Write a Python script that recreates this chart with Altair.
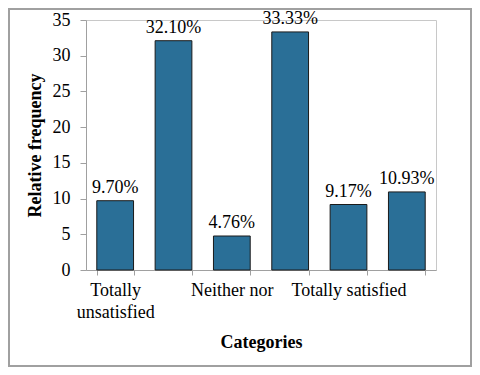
import altair as alt
import pandas as pd

categories = ["Totally unsatisfied", "Unsatisfied", "Neither nor",
              "Satisfied", "Totally satisfied", "No answer"]
values = [9.70, 32.10, 4.76, 33.33, 9.17, 10.93]
y_ticks = [0, 5, 10, 15, 20, 25, 30, 35]

df = pd.DataFrame({"category": categories, "value": values})

FONT = "Liberation Serif"

label_expr = (
    "datum.value == 'Totally unsatisfied' ? ['Totally', 'unsatisfied'] : "
    "(datum.value == 'Neither nor' || datum.value == 'Totally satisfied') ? datum.value : ''"
)

x = alt.X(
    "category:N",
    sort=categories,
    title="Categories",
    scale=alt.Scale(paddingInner=0.37, paddingOuter=0.185),
    axis=alt.Axis(
        labelExpr=label_expr,
        labelAngle=0,
        labelOverlap=False,
        tickBand="extent",
        tickSize=5,
        tickColor="#a0a0a0",
        domainColor="#a0a0a0",
        labelPadding=6,
        labelLineHeight=22,
        labelFontSize=18,
        labelFont=FONT,
        labelColor="#000000",
        titleFont=FONT,
        titleFontSize=18,
        titleFontWeight="bold",
        titleColor="#000000",
        titlePadding=12,
    ),
)

y = alt.Y(
    "value:Q",
    title="Relative frequency",
    scale=alt.Scale(domain=[0, 35], nice=False),
    axis=alt.Axis(
        values=y_ticks,
        tickCount=8,
        grid=False,
        labelOverlap=False,
        tickSize=6,
        tickColor="#a0a0a0",
        domainColor="#a0a0a0",
        labelPadding=10,
        labelFontSize=18,
        labelFont=FONT,
        labelColor="#000000",
        titleFont=FONT,
        titleFontSize=18,
        titleFontWeight="bold",
        titleColor="#000000",
        titlePadding=8,
    ),
)

base = alt.Chart(df).encode(x=x, y=y)

bars = base.mark_bar(color="#2a6f97", stroke="#1a1a1a", strokeWidth=1)

labels = base.transform_calculate(
    txt="format(datum.value, '.2f') + '%'"
).mark_text(
    font=FONT, fontSize=18, color="#000000", baseline="alphabetic", dy=-8
).encode(text="txt:N")

frame = alt.Chart(pd.DataFrame({"a": [0]})).mark_rect(
    fill=None, stroke="#a0a0a0", strokeWidth=2, clip=False
).encode(
    x=alt.value(-77), x2=alt.value(385),
    y=alt.value(-11), y2=alt.value(346),
)

chart = alt.layer(bars, labels, frame).properties(
    width=350,
    height=250,
    autosize=alt.AutoSizeParams(type="none"),
    padding={"left": 78, "top": 12, "right": 36, "bottom": 97},
    background="#ffffff",
).configure_view(stroke="#c8c8c8", strokeWidth=1)

chart.save("out.html", embed_options={"renderer": "svg", "actions": False})
